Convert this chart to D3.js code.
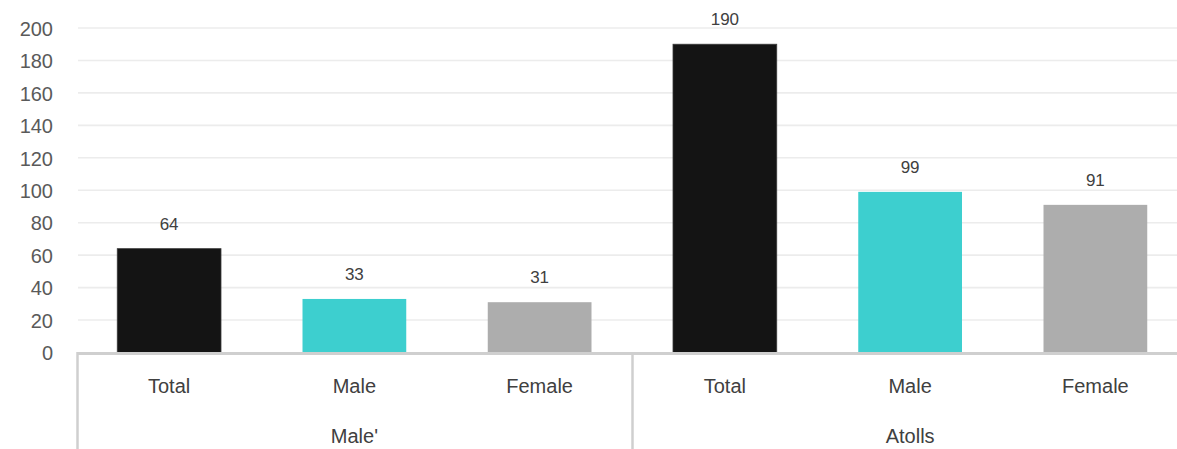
<!DOCTYPE html>
<html>
<head>
<meta charset="utf-8">
<script src="https://cdn.jsdelivr.net/npm/d3@7"></script>
<style>
  html, body { margin: 0; padding: 0; background: #fff; }
  svg { display: block; }
  text { font-family: "Liberation Sans", Arial, sans-serif; }
</style>
</head>
<body>
<div id="chart"></div>
<script>
// Population by area and sex
const groups = ["Male'", "Atolls"];
const categories = ["Total", "Male", "Female"];
const maleValues = [64, 33, 31];     // Male'
const atollValues = [190, 99, 91];   // Atolls
const yTicks = [0, 20, 40, 60, 80, 100, 120, 140, 160, 180, 200];
const barColors = ["#141414", "#3dcfcf", "#adadad"];

const rows = [];
[maleValues, atollValues].forEach((vals, g) => {
  vals.forEach((v, i) => rows.push({ group: groups[g], cat: categories[i], idx: i, value: v, key: g + "-" + i }));
});

const W = 1177, H = 449;
const plotLeft = 76.5, plotRight = 1188, plotTop = 28, plotBottom = 352.5;

const svg = d3.select("#chart").append("svg").attr("width", W).attr("height", H);

const x = d3.scaleBand().domain(rows.map(d => d.key)).range([plotLeft, plotRight]).paddingInner(0.44).paddingOuter(0.22);
const xg = d3.scaleBand().domain(groups).range([plotLeft, plotRight]);
const y = d3.scaleLinear().domain([0, 200]).range([plotBottom, plotTop]);

// horizontal gridlines
svg.append("g").selectAll("line").data(yTicks.filter(t => t > 0)).join("line")
  .attr("x1", 78).attr("x2", W)
  .attr("y1", d => y(d)).attr("y2", d => y(d))
  .attr("stroke", "#ececec").attr("stroke-width", 1.6);

// y axis labels
const yAxis = d3.axisLeft(y).tickValues(yTicks).tickSize(0).tickPadding(0);
const ga = svg.append("g").attr("transform", "translate(53,0)").call(yAxis);
ga.select(".domain").remove();
ga.selectAll("text").attr("font-size", 20).attr("fill", "#5a5a5a").attr("dy", "0.36em")
  .attr("font-family", "Liberation Sans, Arial, sans-serif");

// bars
svg.append("g").selectAll("rect").data(rows).join("rect")
  .attr("x", d => x(d.key)).attr("width", x.bandwidth())
  .attr("y", d => y(d.value)).attr("height", d => y(0) - y(d.value))
  .attr("fill", d => barColors[d.idx])
  .attr("stroke", d => d.idx === 0 ? "#3a3a3a" : "none").attr("stroke-width", 0.8);

// value labels
svg.append("g").selectAll("text").data(rows).join("text")
  .attr("x", d => x(d.key) + x.bandwidth() / 2)
  .attr("y", d => y(d.value) - 25)
  .attr("dy", "0.35em")
  .attr("text-anchor", "middle").attr("font-size", 17).attr("fill", "#404040")
  .text(d => d.value);

// category axis frame
const axisColor = "#cfcfcf";
svg.append("line").attr("x1", 77).attr("x2", W).attr("y1", 353.5).attr("y2", 353.5)
  .attr("stroke", axisColor).attr("stroke-width", 3);
[plotLeft, xg(groups[1])].forEach(px => {
  svg.append("line").attr("x1", Math.round(px) + 0.5).attr("x2", Math.round(px) + 0.5)
    .attr("y1", 352).attr("y2", H)
    .attr("stroke", axisColor).attr("stroke-width", 2.5);
});

// category labels
svg.append("g").selectAll("text").data(rows).join("text")
  .attr("x", d => x(d.key) + x.bandwidth() / 2)
  .attr("y", 386).attr("dy", "0.35em")
  .attr("text-anchor", "middle").attr("font-size", 20).attr("fill", "#404040")
  .text(d => d.cat);

// group labels
svg.append("g").selectAll("text").data(groups).join("text")
  .attr("x", d => xg(d) + xg.bandwidth() / 2)
  .attr("y", 436).attr("dy", "0.35em")
  .attr("text-anchor", "middle").attr("font-size", 20).attr("fill", "#404040")
  .text(d => d);
</script>
</body>
</html>
